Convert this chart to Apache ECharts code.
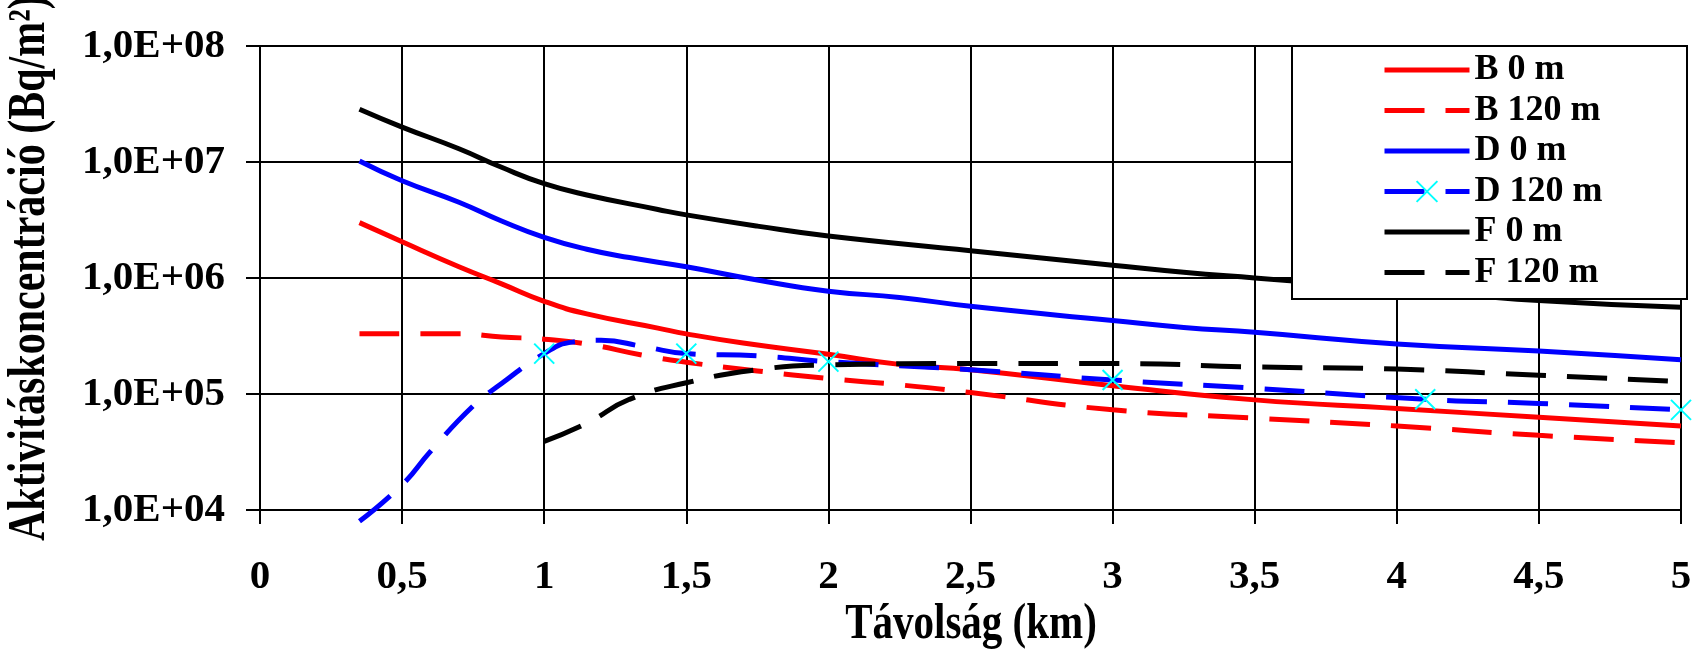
<!DOCTYPE html>
<html>
<head>
<meta charset="utf-8">
<script src="https://cdn.jsdelivr.net/npm/echarts@6/dist/echarts.min.js"></script>
<style>
	html, body { margin: 0; padding: 0; background: #fff; }
	#chart { width: 1705px; height: 650px; }
</style>
</head>
<body>
<div id="chart"></div>
<script>
// distances (km) and activity concentrations (Bq/m2)
const bZeroX = [ 0.35, 0.5, 0.7, 0.85, 1, 1.15, 1.4, 1.5, 1.7, 2, 2.25, 2.5, 3, 3.5, 4, 4.5, 5 ];
const bZeroY = [ 3.0e6, 2.05e6, 1.25e6, 8.9e5, 6.3e5, 4.9e5, 3.7e5, 3.3e5, 2.75e5, 2.2e5, 1.8e5, 1.62e5, 1.18e5, 8.9e4, 7.5e4, 6.3e4, 5.3e4 ];

const bHighX = [ 0.35, 0.7, 0.85, 1, 1.15, 1.35, 1.5, 1.75, 2, 2.25, 2.5, 3, 3.5, 4, 4.5, 5 ];
const bHighY = [ 3.3e5, 3.3e5, 3.1e5, 2.97e5, 2.7e5, 2.15e5, 1.88e5, 1.58e5, 1.36e5, 1.2e5, 1.03e5, 7.3e4, 6.2e4, 5.3e4, 4.4e4, 3.8e4 ];

const dZeroX = [ 0.35, 0.5, 0.7, 0.85, 1, 1.15, 1.3, 1.5, 1.75, 2, 2.25, 2.5, 3, 3.25, 3.5, 4, 4.5, 5 ];
const dZeroY = [ 1.02e7, 6.9e6, 4.5e6, 3.1e6, 2.24e6, 1.77e6, 1.5e6, 1.25e6, 9.6e5, 7.7e5, 6.8e5, 5.7e5, 4.3e5, 3.75e5, 3.4e5, 2.7e5, 2.35e5, 1.97e5 ];

// D 120 m: readings along the curve; crosses only where the picture shows them
const dHighX = [ 0.35, 0.5, 0.6, 0.75, 0.85, 1, 1.1, 1.2, 1.35, 1.5, 1.75, 2, 2.5, 3, 3.5, 4.1, 4.5, 5 ];
const dHighY = [ 8.0e3, 1.65e4, 3.2e4, 7.9e4, 1.23e5, 2.23e5, 2.8e5, 2.9e5, 2.56e5, 2.23e5, 2.13e5, 1.9e5, 1.62e5, 1.32e5, 1.12e5, 9.0e4, 8.3e4, 7.3e4 ];
const dHighMarked = [ 1, 1.5, 2, 3, 4.1, 5 ];

const fZeroX = [ 0.35, 0.5, 0.7, 0.85, 1, 1.15, 1.4, 1.5, 1.75, 2, 2.5, 3, 3.25, 3.5, 4, 4.5, 5 ];
const fZeroY = [ 2.85e7, 2.0e7, 1.3e7, 9.0e6, 6.5e6, 5.2e6, 3.9e6, 3.5e6, 2.8e6, 2.3e6, 1.72e6, 1.29e6, 1.12e6, 1.0e6, 8.0e5, 6.4e5, 5.6e5 ];

const fHighX = [ 1, 1.15, 1.3, 1.5, 1.75, 2, 2.5, 3, 3.5, 4, 4.5, 5 ];
const fHighY = [ 3.9e4, 5.6e4, 9.0e4, 1.25e5, 1.62e5, 1.78e5, 1.83e5, 1.83e5, 1.71e5, 1.64e5, 1.45e5, 1.28e5 ];

const seriesNames = [ 'B 0 m', 'B 120 m', 'D 0 m', 'D 120 m', 'F 0 m', 'F 120 m' ];
const xTickLabels = [ '0', '0,5', '1', '1,5', '2', '2,5', '3', '3,5', '4', '4,5', '5' ];
const yTickLabels = [ '1,0E+04', '1,0E+05', '1,0E+06', '1,0E+07', '1,0E+08' ];
const xTitle = 'Távolság (km)';
const yTitle = 'Aktivitáskoncentráció (Bq/m²)';

const font = '"Liberation Serif", "Times New Roman", serif';
const dash = [ 40, 21 ];
const cross = 'path://M0,0L10,10M10,0L0,10';

function pairs( xs, ys ) {
	return xs.map( ( x, i ) => [ x, ys[ i ] ] );
}

function line( name, xs, ys, color, type ) {
	return {
		name: name,
		type: 'line',
		data: pairs( xs, ys ),
		smooth: true,
		symbol: 'none',
		color: color,
		lineStyle: { color: color, width: 5, type: type }
	};
}

const dHighData = pairs( dHighX, dHighY ).map( p =>
	dHighMarked.indexOf( p[ 0 ] ) >= 0 ? { value: p } : { value: p, symbol: 'none' } );

// legend: plain line icons, the cross only for D 120 m
const legendData = seriesNames.map( n =>
	n === 'D 120 m' ? { name: n } : { name: n, itemStyle: { opacity: 0 } } );

const chart = echarts.init( document.getElementById( 'chart' ), null, { renderer: 'canvas' } );

chart.setOption( {
	animation: false,
	backgroundColor: '#fff',
	grid: { left: 260, right: 24, top: 46, bottom: 140, containLabel: false, outerBoundsMode: 'none' },
	xAxis: {
		type: 'value',
		min: 0,
		max: 5,
		interval: 0.5,
		axisLine: { show: true, lineStyle: { color: '#000', width: 2 } },
		axisTick: { show: true, length: 14, lineStyle: { color: '#000', width: 2 } },
		axisLabel: {
			margin: 47,
			fontFamily: font,
			fontWeight: 'bold',
			fontSize: 41,
			color: '#000',
			formatter: v => xTickLabels[ Math.round( v * 2 ) ]
		},
		splitLine: { show: true, lineStyle: { color: '#000', width: 2 } }
	},
	yAxis: {
		type: 'log',
		logBase: 10,
		min: 1e4,
		max: 1e8,
		interval: 1,
		axisLine: { show: true, lineStyle: { color: '#000', width: 2 } },
		axisTick: { show: true, length: 14, lineStyle: { color: '#000', width: 2 } },
		minorTick: { show: false },
		axisLabel: {
			margin: 35,
			fontFamily: font,
			fontWeight: 'bold',
			fontSize: 41,
			color: '#000',
			formatter: v => yTickLabels[ Math.round( Math.log10( v ) ) - 4 ]
		},
		splitLine: { show: true, lineStyle: { color: '#000', width: 2 } }
	},
	graphic: [
		{
			type: 'rect',
			z: 50,
			shape: { x: 1292, y: 46, width: 395, height: 253 },
			style: { fill: '#fff', stroke: '#000', lineWidth: 2 }
		},
		// axis titles are drawn a little taller than wide, as in the original
		{
			type: 'text',
			x: 971,
			y: 625,
			scaleY: 1.25,
			style: {
				text: xTitle, fill: '#000', font: 'bold 41px ' + font,
				align: 'center', verticalAlign: 'middle'
			}
		},
		{
			type: 'text',
			x: 30,
			y: 541,
			rotation: Math.PI / 2,
			scaleY: 1.25,
			style: {
				text: yTitle, fill: '#000', font: 'bold 42px ' + font,
				align: 'left', verticalAlign: 'middle'
			}
		}
	],
	legend: {
		z: 60,
		orient: 'vertical',
		left: 1382,
		top: 52,
		padding: 0,
		align: 'left',
		itemWidth: 85,
		itemHeight: 26,
		itemGap: 4.5,
		data: legendData,
		lineStyle: { width: 5 },
		textStyle: { fontFamily: font, fontWeight: 'bold', fontSize: 36, lineHeight: 36, color: '#000' }
	},
	series: [
		line( seriesNames[ 0 ], bZeroX, bZeroY, '#ff0000', 'solid' ),
		line( seriesNames[ 1 ], bHighX, bHighY, '#ff0000', dash ),
		line( seriesNames[ 2 ], dZeroX, dZeroY, '#0000ff', 'solid' ),
		{
			name: seriesNames[ 3 ],
			type: 'line',
			data: dHighData,
			smooth: true,
			clip: false,
			symbol: cross,
			symbolSize: 20,
			showSymbol: true,
			color: '#0000ff',
			itemStyle: { color: '#00ffff', borderColor: '#00ffff', borderWidth: 2 },
			lineStyle: { color: '#0000ff', width: 5, type: dash }
		},
		line( seriesNames[ 4 ], fZeroX, fZeroY, '#000000', 'solid' ),
		line( seriesNames[ 5 ], fHighX, fHighY, '#000000', dash )
	]
} );
</script>
</body>
</html>
